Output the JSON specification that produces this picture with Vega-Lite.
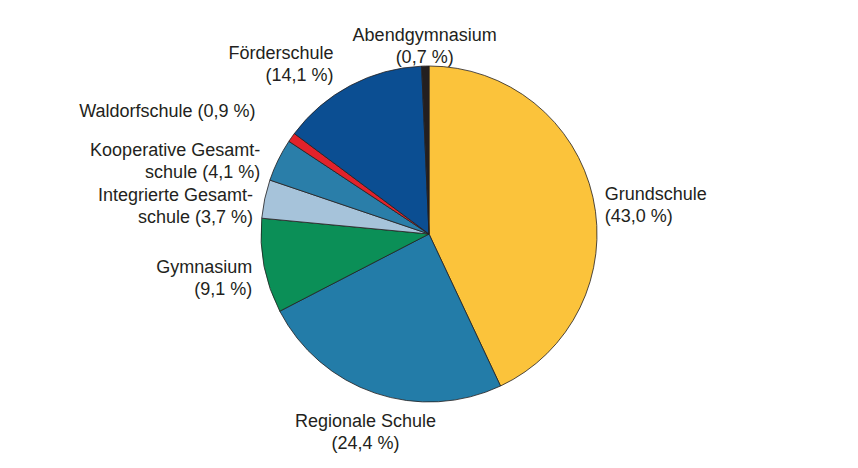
{
  "$schema": "https://vega.github.io/schema/vega-lite/v6.json",
  "width": 858,
  "height": 468,
  "autosize": {"type": "fit", "contains": "padding"},
  "background": "white",
  "view": {"stroke": null},
  "data": {
    "values": [
      {"order": 1, "name": "Grundschule", "share": 43.0, "label": "Grundschule\n(43,0 %)"},
      {"order": 2, "name": "Regionale Schule", "share": 24.4, "label": "Regionale Schule\n(24,4 %)"},
      {"order": 3, "name": "Gymnasium", "share": 9.1, "label": "Gymnasium\n(9,1 %)"},
      {"order": 4, "name": "Integrierte Gesamtschule", "share": 3.7, "label": "Integrierte Gesamt-\nschule (3,7 %)"},
      {"order": 5, "name": "Kooperative Gesamtschule", "share": 4.1, "label": "Kooperative Gesamt-\nschule (4,1 %)"},
      {"order": 6, "name": "Waldorfschule", "share": 0.9, "label": "Waldorfschule (0,9 %)"},
      {"order": 7, "name": "Förderschule", "share": 14.1, "label": "Förderschule\n(14,1 %)"},
      {"order": 8, "name": "Abendgymnasium", "share": 0.7, "label": "Abendgymnasium\n(0,7 %)"}
    ]
  },
  "encoding": {
    "theta": {"field": "share", "type": "quantitative", "stack": true},
    "order": {"field": "order", "type": "quantitative"}
  },
  "layer": [
    {
      "mark": {"type": "arc", "outerRadius": 168, "stroke": "#231F20", "strokeWidth": 0.8},
      "encoding": {
        "color": {
          "field": "name",
          "type": "nominal",
          "scale": {
            "domain": ["Grundschule", "Regionale Schule", "Gymnasium", "Integrierte Gesamtschule", "Kooperative Gesamtschule", "Waldorfschule", "Förderschule", "Abendgymnasium"],
            "range": ["#FBC33B", "#237CA8", "#0B8F57", "#A6C3DA", "#2A7EA9", "#E2222B", "#0B4E92", "#231F20"]
          },
          "legend": null
        }
      }
    },
    {
      "mark": {
        "type": "text",
        "font": "Liberation Sans",
        "fontSize": 18,
        "lineHeight": 22,
        "color": "#231F20",
        "lineBreak": "\n",
        "baseline": "middle",
        "radius": {"expr": "datum.name == 'Abendgymnasium' || datum.name == 'Regionale Schule' ? 198 : datum.name == 'Förderschule' ? 204 : datum.name == 'Waldorfschule' ? 212 : datum.name == 'Kooperative Gesamtschule' ? 188 : 180"},
        "align": {"expr": "datum.name == 'Grundschule' ? 'left' : (datum.name == 'Abendgymnasium' || datum.name == 'Regionale Schule') ? 'center' : 'right'"}
      },
      "encoding": {
        "text": {"field": "label", "type": "nominal"}
      }
    }
  ]
}
